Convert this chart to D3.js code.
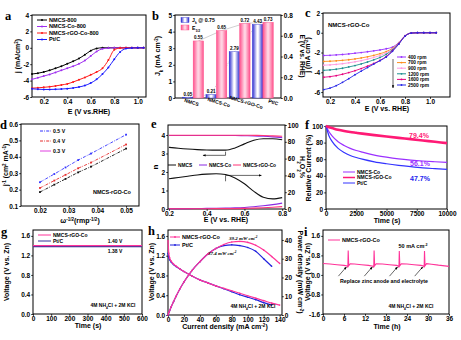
<!DOCTYPE html>
<html><head><meta charset="utf-8">
<script src="https://cdn.jsdelivr.net/npm/d3@7"></script>
<style>body{margin:0;background:#fff}</style>
</head><body>
<script>
// ---------- data ----------
// a: LSV curves
const aE = [0.10,0.15,0.20,0.25,0.30,0.35,0.40,0.45,0.50,0.55,0.60,0.65,0.70,0.75,0.80,0.85,0.90,0.95,1.00,1.05];
const aNMCS800 = [-3.2,-3.1,-2.95,-2.75,-2.5,-2.25,-1.95,-1.65,-1.3,-0.85,-0.35,-0.08,0,0,0,0,0,0,0,0];
const aNMCSCo800 = [-3.85,-3.65,-3.45,-3.25,-3.0,-2.75,-2.5,-2.25,-1.95,-1.55,-1.0,-0.45,-0.12,-0.03,0,0,0,0,0,0];
const aRGO800 = [-4.92,-4.88,-4.82,-4.75,-4.65,-4.53,-4.4,-4.17,-3.9,-3.62,-3.3,-2.95,-2.5,-1.5,-0.25,-0.03,0,0,0,0];
const aPtC = [-5.0,-5.05,-5.08,-5.08,-5.06,-5.03,-4.98,-4.9,-4.78,-4.6,-4.3,-3.85,-3.2,-2.4,-1.4,-0.5,-0.1,-0.02,0,0];
const aNames = ["NMCS-800","NMCS-Co-800","NMCS-rGO-Co-800","Pt/C"];

// b: bars
const bCats = ["NMCS","NMCS-Co","NMCS-rGO-Co","Pt/C"];
const bJk = [0.05,0.21,2.79,4.43];
const bE12 = [0.55,0.65,0.72,0.73];

// c: rpm curves
const cE = [0.15,0.20,0.25,0.30,0.35,0.40,0.45,0.50,0.55,0.60,0.65,0.70,0.75,0.80,0.85,0.90,0.95,1.00,1.05];
const c400 = [-2.3,-2.28,-2.24,-2.2,-2.14,-2.07,-2.0,-1.92,-1.83,-1.74,-1.62,-1.45,-1.0,-0.3,-0.03,0,0,0,0];
const c700 = [-2.9,-2.88,-2.84,-2.79,-2.73,-2.65,-2.55,-2.43,-2.29,-2.12,-1.9,-1.58,-1.05,-0.31,-0.03,0,0,0,0];
const c900 = [-3.28,-3.25,-3.2,-3.13,-3.04,-2.94,-2.82,-2.67,-2.5,-2.3,-2.03,-1.65,-1.08,-0.32,-0.03,0,0,0,0];
const c1200 = [-3.8,-3.76,-3.69,-3.59,-3.46,-3.32,-3.15,-2.96,-2.74,-2.5,-2.18,-1.72,-1.1,-0.33,-0.03,0,0,0,0];
const c1600 = [-4.5,-4.44,-4.34,-4.2,-4.03,-3.84,-3.62,-3.38,-3.11,-2.8,-2.4,-1.8,-1.12,-0.34,-0.03,0,0,0,0];
const c2500 = [-5.75,-5.6,-5.35,-5.02,-4.65,-4.25,-3.88,-3.52,-3.17,-2.82,-2.45,-1.88,-1.15,-0.35,-0.03,0,0,0,0];
const cNames = ["400 rpm","700 rpm","900 rpm","1200 rpm","1600 rpm","2500 rpm"];

// d: K-L plots
const dW = [0.02,0.025,0.0289,0.0333,0.0378,0.05];
const d05 = [0.245,0.295,0.335,0.38,0.42,0.535];
const d04 = [0.21,0.255,0.29,0.33,0.365,0.475];
const d03 = [0.185,0.23,0.265,0.305,0.34,0.45];

// e: electron number and H2O2 yield
const eE = [0.20,0.25,0.30,0.35,0.40,0.45,0.50,0.55,0.60,0.65,0.70,0.75,0.80];
const eN_NMCS = [3.33,3.28,3.24,3.21,3.19,3.18,3.18,3.3,3.52,3.72,3.8,3.8,3.74];
const eN_Co = [3.97,3.97,3.97,3.97,3.97,3.97,3.97,3.97,3.96,3.95,3.93,3.9,3.86];
const eN_RGO = [3.99,3.99,3.99,3.99,3.99,3.99,3.99,3.99,3.99,3.98,3.97,3.95,3.93];
const eH_NMCS = [36,37.5,39,40.5,41.5,42,41,37,30,21,14,12,13.5];
const eH_Co = [0.5,0.5,0.5,0.6,0.7,0.8,1,1.3,1.8,2.6,3.8,5.2,7];
const eH_RGO = [0.3,0.3,0.3,0.3,0.3,0.4,0.4,0.5,0.7,1,1.4,2,2.8];

// f: chronoamperometry
const fT = [0,250,500,1000,1500,2000,2500,3000,4000,5000,6000,7000,8000,9000,10000];
const fRGO = [100,98.5,97.5,95.5,94,92.8,91.8,90.8,89,87.3,85.7,84.2,82.6,81,79.4];
const fCo = [100,93,88,81,76.5,73,70.5,68.5,65,62.5,60.5,59,57.8,56.9,56.1];
const fPt = [100,88,81.5,73,68,64.5,62,60,56.8,54.5,52.6,51,49.6,48.6,47.7];

// g: open circuit voltage
const gT = [0,100,200,300,400,500,600];
const gRGO = [1.40,1.40,1.40,1.40,1.40,1.40,1.40];
const gPt = [1.38,1.38,1.38,1.38,1.38,1.38,1.38];

// h: polarization and power density
const hI = [0,1,2,4,7,10,15,20,30,40,50,60,70,80,90,100,110,120,130,140];
const hV_RGO = [1.5,1.25,1.16,1.09,1.03,0.99,0.93,0.88,0.79,0.71,0.65,0.59,0.54,0.49,0.44,0.39,0.34,0.29,0.24,0.2];
const hP_RGO = [0,1.3,2.3,4.4,7.2,9.9,14,17.6,23.7,28.4,32.5,35.4,37.6,38.9,39.2,38.7,37.2,34.6,31.2,27.5];
const hIPt = [0,1,2,4,7,10,15,20,30,40,50,60,70,80,90,100,110,120,130];
const hV_Pt = [1.25,1.17,1.12,1.07,1.02,0.98,0.93,0.88,0.79,0.71,0.65,0.59,0.53,0.47,0.41,0.36,0.31,0.25,0.2];
const hP_Pt = [0,1.2,2.2,4.3,7.1,9.8,14,17.6,23.7,28.4,32.5,35.4,37,37.4,37,36,34,30,26];

// i: discharge with zinc replacement
const iT = [0,2,4,6,6.9,7.1,7.2,7.35,7.8,9,11,13,14.3,14.5,14.6,14.75,15.2,17,19,21,21.5,21.7,21.8,21.95,22.4,24,26,28,28.7,28.9,29.0,29.15,29.6,31,33,36];
const iV = [0.47,0.45,0.42,0.39,0.37,0.3,1.0,0.38,0.46,0.45,0.42,0.39,0.36,0.3,1.0,0.38,0.46,0.45,0.42,0.39,0.37,0.3,0.98,0.38,0.46,0.45,0.42,0.39,0.37,0.3,0.98,0.38,0.46,0.44,0.4,0.35];
const iReplace = [7.2,14.6,21.8,29.0];

// ---------- helpers ----------
const FONT = "'Liberation Sans', Arial, sans-serif";
const SERIF = "'Liberation Serif', 'Times New Roman', serif";
const svg = d3.select("body").append("svg").attr("width",461).attr("height",340);
svg.append("rect").attr("width",461).attr("height",340).attr("fill","#fff");
const defs = svg.append("defs");
defs.append("marker").attr("id","arr").attr("viewBox","0 0 10 10").attr("refX",9).attr("refY",5)
  .attr("markerWidth",5).attr("markerHeight",5).attr("orient","auto")
  .append("path").attr("d","M0,1L10,5L0,9z").attr("fill","#000");

const fi = d => String(d).replace("−","-");
const f1 = d => d3.format(".1f")(d).replace("−","-");
const f2 = d => d3.format(".2f")(d);

function txt(g, x, y, parts, o = {}) {
  const size = o.size || 7;
  const t = g.append("text").attr("x",x).attr("y",y)
    .attr("font-family", o.family || FONT).attr("font-weight", o.weight || "bold")
    .attr("font-size", size).attr("text-anchor", o.anchor || "middle")
    .attr("fill", o.color || "#000");
  if (o.italic) t.attr("font-style","italic");
  if (o.rot) t.attr("transform", `rotate(${o.rot},${x},${y})`);
  (Array.isArray(parts) ? parts : [parts]).forEach(p => {
    if (typeof p === "string") t.append("tspan").text(p);
    else t.append("tspan").text(p.t).attr("font-size", size*0.65).attr("baseline-shift", p.sup ? "super" : "sub");
  });
  return t;
}

function styleTicks(sel) {
  sel.select(".domain").remove();
  sel.selectAll(".tick text").attr("font-family",FONT).attr("font-weight","bold").attr("font-size",6.5);
  sel.selectAll(".tick line").attr("stroke-width",0.8);
}

function panel(x, y, o) {
  const g = svg.append("g");
  const [l, r] = x.range(), [b, t] = y.range();
  if (o.xt) g.append("g").attr("transform",`translate(0,${b})`)
    .call(d3.axisBottom(x).tickValues(o.xt).tickFormat(o.xf).tickSize(1.8).tickPadding(1)).call(styleTicks);
  g.append("g").attr("transform",`translate(${l},0)`)
    .call(d3.axisLeft(y).tickValues(o.yt).tickFormat(o.yf).tickSize(1.8).tickPadding(1)).call(styleTicks);
  if (o.y2) g.append("g").attr("transform",`translate(${r},0)`)
    .call(d3.axisRight(o.y2).tickValues(o.y2t).tickFormat(o.y2f).tickSize(1.8).tickPadding(1)).call(styleTicks);
  g.append("rect").attr("x",l).attr("y",t).attr("width",r-l).attr("height",b-t)
    .attr("fill","none").attr("stroke","#000").attr("stroke-width",1);
  return {g, x, y, y2: o.y2};
}

function line(P, xs, ys, o) {
  const ys_ = o.y2 ? P.y2 : P.y;
  const pts = xs.map((v,i) => [P.x(v), ys_(ys[i])]);
  P.g.append("path").attr("d", d3.line().curve(o.curve || d3.curveMonotoneX)(pts))
    .attr("fill","none").attr("stroke",o.c).attr("stroke-width",o.w || 1)
    .attr("stroke-dasharray",o.dash || null);
  if (o.m) P.g.append("g").selectAll("circle").data(pts).join("circle")
    .attr("cx",d=>d[0]).attr("cy",d=>d[1]).attr("r",o.m).attr("fill",o.c);
  if (o.sq) P.g.append("g").selectAll("rect").data(pts).join("rect")
    .attr("x",d=>d[0]-o.sq/2).attr("y",d=>d[1]-o.sq/2).attr("width",o.sq).attr("height",o.sq).attr("fill",o.c);
}

function legendRow(g, x, y, c, label, o = {}) {
  const len = o.len || 10;
  g.append("line").attr("x1",x).attr("x2",x+len).attr("y1",y).attr("y2",y)
    .attr("stroke",c).attr("stroke-width",o.w || 1).attr("stroke-dasharray",o.dash || null);
  if (o.m) g.append("circle").attr("cx",x+len/2).attr("cy",y).attr("r",o.m).attr("fill",c);
  txt(g, x+len+2, y+1.8, label, {size:o.size || 5.2, anchor:"start"});
}

function letter(x, y, s) { txt(svg, x, y, s, {family:SERIF, size:12.5, anchor:"start"}); }

// ---------- a ----------
{
  const x = d3.scaleLinear().domain([0.1,1.07]).range([32,146]);
  const y = d3.scaleLinear().domain([-6,4]).range([97,15]);
  const P = panel(x, y, {xt:[0.2,0.4,0.6,0.8,1.0], xf:f1, yt:[-6,-4,-2,0,2,4], yf:fi});
  const cols = ["#000","#a030f0","#ff1a1a","#1a1aff"];
  [aNMCS800,aNMCSCo800,aRGO800,aPtC].forEach((v,i) => line(P, aE, v, {c:cols[i], w:1, m:1}));
  aNames.forEach((n,i) => legendRow(P.g, 37, 20+i*6.5, cols[i], n, {m:1, size:5.6}));
  txt(svg, 89, 113.5, "E (V vs.RHE)", {size:7});
  txt(svg, 20, 56, ["j (mA/cm", {t:"2",sup:1}, ")"], {size:7, rot:-90});
  letter(5, 20, "a");
}

// ---------- b ----------
{
  const x = d3.scaleBand().domain(bCats).range([175,281]).paddingInner(0.1).paddingOuter(0.33);
  const y = d3.scaleLinear().domain([0,5]).range([98,15]);
  const y2 = d3.scaleLinear().domain([0,0.8]).range([98,15]);
  const P = panel(d3.scaleLinear().range([175,281]), y, {yt:[0,1,2,3,4,5], yf:fi, y2, y2t:[0,0.2,0.4,0.6,0.8], y2f:f1});
  const mk = (id, c1, c2) => {
    const gr = defs.append("linearGradient").attr("id",id).attr("x1",0).attr("x2",1).attr("y1",0).attr("y2",0);
    [[0,c1],[0.45,c2],[0.55,c2],[1,c1]].forEach(s => gr.append("stop").attr("offset",s[0]).attr("stop-color",s[1]));
  };
  mk("gBlue","#2a2ad0","#ffffff");
  mk("gPink","#ff4f8b","#ffd3e2");
  const bw = x.bandwidth()/2;
  // connecting lines
  P.g.append("path").attr("d", d3.line()(bCats.map((c,i)=>[x(c)+bw*1.5, y2(bE12[i])])))
    .attr("fill","none").attr("stroke","#b0b0b0").attr("stroke-width",0.6);
  P.g.append("path").attr("d", d3.line()(bCats.map((c,i)=>[x(c)+bw*0.5, y(bJk[i])])))
    .attr("fill","none").attr("stroke","#b0b0b0").attr("stroke-width",0.6).attr("stroke-dasharray","1,1");
  P.g.selectAll(".bj").data(bCats).join("rect")
    .attr("x",c=>x(c)).attr("width",bw).attr("y",(c,i)=>y(bJk[i])).attr("height",(c,i)=>98-y(bJk[i]))
    .attr("fill","url(#gBlue)").attr("stroke","#2a2ad0").attr("stroke-width",0.4);
  P.g.selectAll(".be").data(bCats).join("rect")
    .attr("x",c=>x(c)+bw).attr("width",bw).attr("y",(c,i)=>y2(bE12[i])).attr("height",(c,i)=>98-y2(bE12[i]))
    .attr("fill","url(#gPink)").attr("stroke","#ff4f8b").attr("stroke-width",0.4);
  bCats.forEach((c,i) => {
    txt(P.g, x(c)+bw*0.5, y(bJk[i])-1.5, d3.format(".2f")(bJk[i]), {size:4.5});
    txt(P.g, x(c)+bw*1.5, y2(bE12[i])-1.5, d3.format(".2f")(bE12[i]), {size:4.5});
    txt(svg, x(c)+bw-2+4*i, 104, c, {size:5, rot:17});
  });
  // legend
  P.g.append("rect").attr("x",181).attr("y",17.5).attr("width",8).attr("height",5).attr("fill","url(#gBlue)").attr("stroke","#2a2ad0").attr("stroke-width",0.4);
  P.g.append("rect").attr("x",181).attr("y",25).attr("width",8).attr("height",5).attr("fill","url(#gPink)").attr("stroke","#ff4f8b").attr("stroke-width",0.4);
  txt(P.g, 192, 22, ["J", {t:"k",sub:1}, " @ 0.75"], {size:5.2, anchor:"start"});
  txt(P.g, 192, 29.5, ["E", {t:"1/2",sub:1}], {size:5.2, anchor:"start"});
  txt(svg, 160, 56, ["J", {t:"k",sub:1}, " (mA cm", {t:"-2",sup:1}, ")"], {size:7, rot:-90});
  txt(svg, 300, 56, "E (V vs. RHE)", {size:6.8, rot:90});
  letter(152, 20, "b");
}

// ---------- c ----------
{
  const x = d3.scaleLinear().domain([0.144,1.16]).range([323,450]);
  const y = d3.scaleLinear().domain([-6.5,2]).range([97,13]);
  const P = panel(x, y, {xt:[0.2,0.4,0.6,0.8,1.0], xf:f1, yt:[-6,-4,-2,0,2], yf:fi});
  const cols = ["#9933ff","#ff8c1a","#ff99e0","#1f8f8f","#e6007e","#2626e6"];
  [c400,c700,c900,c1200,c1600,c2500].forEach((v,i) => line(P, cE, v, {c:cols[i], w:0.9, m:0.9}));
  cNames.forEach((n,i) => legendRow(P.g, 397, 57+i*5.6, cols[i], n, {len:9, m:0.9, size:4.8}));
  P.g.append("line").attr("x1",393).attr("x2",393).attr("y1",59).attr("y2",88)
    .attr("stroke","#000").attr("stroke-width",0.6).attr("marker-end","url(#arr)");
  txt(P.g, 328, 27, "NMCS-rGO-Co", {size:6, anchor:"start"});
  txt(svg, 387, 110.5, "E (V vs. RHE)", {size:7});
  txt(svg, 310, 55, ["j (mA cm", {t:"-2",sup:1}, ")"], {size:7, rot:-90});
  letter(305, 17, "c");
}

// ---------- d ----------
{
  const x = d3.scaleLinear().domain([0.0134,0.0545]).range([21,139]);
  const y = d3.scaleLinear().domain([0.1,0.6]).range([206,124]);
  const P = panel(x, y, {xt:[0.02,0.03,0.04,0.05], xf:f2, yt:[0.1,0.2,0.3,0.4,0.5,0.6], yf:f1});
  const dash = "3,1.2,0.8,1.2";
  line(P, dW, d05, {c:"#3333ff", w:0.9, dash, sq:1.8, curve:d3.curveLinear});
  line(P, dW, d04, {c:"#e62e2e", w:0.9, dash, sq:1.8, curve:d3.curveLinear});
  line(P, dW, d03, {c:"#111", w:0.9, dash, sq:1.8, curve:d3.curveLinear});
  legendRow(P.g, 40, 131, "#3333ff", "0.5 V", {len:11, dash});
  legendRow(P.g, 40, 141, "#e62e2e", "0.4 V", {len:11, dash});
  legendRow(P.g, 40, 151, "#e040e0", "0.3 V", {len:11});
  txt(P.g, 112, 194, "NMCS-rGO-Co", {size:5.5});
  txt(svg, 80, 222.5, ["ω", {t:"-1/2",sup:1}, "(rmp", {t:"-1/2",sup:1}, ")"], {size:7});
  txt(svg, 8, 165, ["j", {t:"-1",sup:1}, " (cm", {t:"2",sup:1}, " mA", {t:"-1",sup:1}, ")"], {size:7, rot:-90});
  letter(0, 129, "d");
}

// ---------- e ----------
{
  const x = d3.scaleLinear().domain([0.195,0.815]).range([168,285]);
  const y = d3.scaleLinear().domain([0,4.54]).range([209,125]);
  const y2 = d3.scaleLinear().domain([0,100]).range([209,125]);
  const P = panel(x, y, {xt:[0.2,0.4,0.6,0.8], xf:f1, yt:[0,1,2,3,4], yf:fi, y2, y2t:[0,20,40,60,80,100], y2f:fi});
  line(P, eE, eN_NMCS, {c:"#111", w:1.1});
  line(P, eE, eN_Co, {c:"#8a2be2", w:1.1});
  line(P, eE, eN_RGO, {c:"#ff3377", w:1.1});
  line(P, eE, eH_NMCS, {c:"#111", w:1.1, y2:1});
  line(P, eE, eH_Co, {c:"#8a2be2", w:1.1, y2:1});
  line(P, eE, eH_RGO, {c:"#ff3377", w:1.1, y2:1});
  // arrows
  P.g.append("path").attr("d",`M${x(0.5)},${y(3.1)}V${y(2.9)}H${x(0.38)}`)
    .attr("fill","none").attr("stroke","#000").attr("stroke-width",0.6).attr("marker-end","url(#arr)");
  P.g.append("path").attr("d",`M${x(0.5)},${y2(33)}V${y2(40)}H${x(0.69)}`)
    .attr("fill","none").attr("stroke","#000").attr("stroke-width",0.6).attr("marker-end","url(#arr)");
  legendRow(P.g, 168, 165, "#111", "NMCS", {len:8, size:4.8});
  legendRow(P.g, 199, 165, "#8a2be2", "NMCS-Co", {len:8, size:4.8});
  legendRow(P.g, 233, 165, "#ff3377", "NMCS-rGO-Co", {len:8, size:4.8});
  txt(svg, 226, 222, "E (V vs. RHE)", {size:7});
  txt(svg, 158, 167, "n", {size:8, rot:-90});
  txt(svg, 300, 167, ["H", {t:"2",sub:1}, "O", {t:"2",sub:1}, "%"], {size:7, rot:90});
  letter(151, 128, "e");
}

// ---------- f ----------
{
  const x = d3.scaleLinear().domain([0,10000]).range([326,447]);
  const y = d3.scaleLinear().domain([0,100]).range([209,126]);
  const P = panel(x, y, {xt:[0,2500,5000,7500,10000], xf:fi, yt:[0,20,40,60,80,100], yf:fi});
  line(P, fT, fCo, {c:"#9b30ff", w:1.2});
  line(P, fT, fPt, {c:"#3333ff", w:1.2});
  line(P, fT, fRGO, {c:"#ff1a75", w:2.6});
  txt(P.g, 419, 138, "79.4%", {size:7, color:"#ff1a75"});
  txt(P.g, 420, 166, "56.1%", {size:7, color:"#9b30ff"});
  txt(P.g, 420, 181, "47.7%", {size:7, color:"#2222ee"});
  legendRow(P.g, 343, 172, "#9b30ff", "NMCS-Co", {len:12, size:5});
  legendRow(P.g, 343, 177.5, "#ff1a75", "NMCS-rGO-Co", {len:12, size:5, w:1.5});
  legendRow(P.g, 343, 183, "#3333ff", "Pt/C", {len:12, size:5});
  txt(svg, 387, 222.5, "Time (s)", {size:7});
  txt(svg, 311, 168, "Relative Current (%)", {size:7, rot:-90});
  letter(305, 129, "f");
}

// ---------- g ----------
{
  const x = d3.scaleLinear().domain([0,600]).range([33,142]);
  const y = d3.scaleLinear().domain([0,1.72]).range([314,230]);
  const P = panel(x, y, {xt:[0,100,200,300,400,500,600], xf:fi, yt:[0,0.4,0.8,1.2,1.6], yf:f1});
  line(P, gT, gPt, {c:"#333399", w:1.2, curve:d3.curveLinear});
  line(P, gT, gRGO, {c:"#ff3399", w:1.2, curve:d3.curveLinear});
  legendRow(P.g, 38, 235, "#ff3399", "NMCS-rGO-Co", {len:13, size:5});
  legendRow(P.g, 38, 241, "#333399", "Pt/C", {len:13, size:5});
  txt(P.g, 115, 243, "1.40 V", {size:5});
  txt(P.g, 115, 253, "1.38 V", {size:5});
  txt(P.g, 113, 307, ["4M NH", {t:"4",sub:1}, "Cl + 2M KCl"], {size:5});
  txt(svg, 88, 327.5, "Time (s)", {size:7});
  txt(svg, 9, 272, "Voltage (V vs. Zn)", {size:7, rot:-90});
  letter(1, 236, "g");
}

// ---------- h ----------
{
  const x = d3.scaleLinear().domain([0,143]).range([168,282]);
  const y = d3.scaleLinear().domain([0,1.72]).range([315,230]);
  const y2 = d3.scaleLinear().domain([0,45.3]).range([315,230]);
  const P = panel(x, y, {xt:[0,20,40,60,80,100,120,140], xf:fi, yt:[0,0.4,0.8,1.2,1.6], yf:f1, y2, y2t:[0,10,20,30,40], y2f:fi});
  line(P, hIPt, hV_Pt, {c:"#2222dd", w:1.2, m:0.8});
  line(P, hIPt, hP_Pt, {c:"#2222dd", w:1.2, m:0.8, y2:1});
  line(P, hI, hV_RGO, {c:"#ff3399", w:1.2, m:0.8});
  line(P, hI, hP_RGO, {c:"#ff3399", w:1.2, m:0.8, y2:1});
  legendRow(P.g, 170, 237, "#ff3399", "NMCS-rGO-Co", {len:10, m:0.9, size:5.5});
  legendRow(P.g, 170, 245, "#2222dd", "Pt/C", {len:10, m:0.9, size:5.5});
  txt(P.g, 229, 240, ["39.2 mW cm", {t:"-2",sup:1}], {family:SERIF, size:5, anchor:"start", italic:1});
  txt(P.g, 208, 255, ["37.4 mW cm", {t:"-2",sup:1}], {family:SERIF, size:5, anchor:"start", italic:1});
  txt(P.g, 253, 308, ["4M NH", {t:"4",sub:1}, "Cl + 2M KCl"], {size:5});
  txt(svg, 225, 329, ["Current density (mA cm", {t:"-2",sup:1}, ")"], {size:7});
  txt(svg, 154, 272, "Voltage (V vs. Zn)", {size:7, rot:-90});
  txt(svg, 298, 272, ["Power density (mW cm", {t:"-2",sup:1}, ")"], {size:7, rot:90});
  letter(148, 235, "h");
}

// ---------- i ----------
{
  const x = d3.scaleLinear().domain([0,36]).range([323,449]);
  const y = d3.scaleLinear().domain([-1.6,1.84]).range([314,230]);
  const P = panel(x, y, {xt:[0,6,12,18,24,30,36], xf:fi, yt:[-1.6,-0.8,0,0.8,1.6], yf:f1});
  line(P, iT, iV, {c:"#ff3399", w:1.1, curve:d3.curveLinear});
  iReplace.forEach(t => {
    P.g.append("line").attr("x1",x(t-2.8)).attr("y1",y(-0.05)).attr("x2",x(t-0.5)).attr("y2",y(0.33))
      .attr("stroke","#000").attr("stroke-width",0.6).attr("marker-end","url(#arr)");
  });
  legendRow(P.g, 328, 240, "#ff3399", "NMCS-rGO-Co", {len:12, size:5.5});
  txt(P.g, 413, 248, ["50 mA cm", {t:"-2",sup:1}], {size:5.5});
  txt(P.g, 384, 283, "Replace zinc anode and electrolyte", {size:5.3});
  txt(P.g, 411, 308, ["4M NH", {t:"4",sub:1}, "Cl + 2M KCl"], {size:5});
  txt(svg, 387, 329, "Time (h)", {size:7});
  txt(svg, 310, 272, "Voltage (V vs. Zn)", {size:7, rot:-90});
  letter(304, 236, "i");
}
</script>
</body></html>
